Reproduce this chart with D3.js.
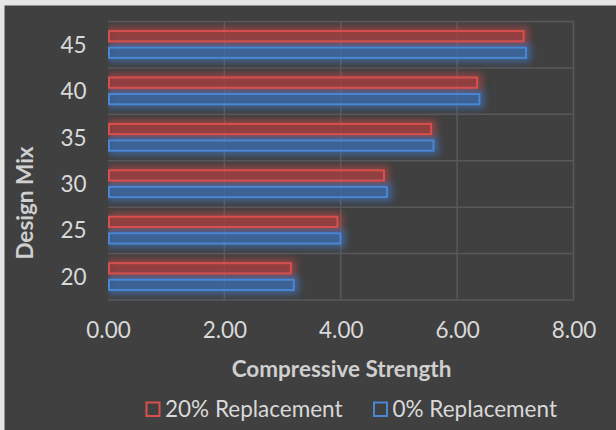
<!DOCTYPE html>
<html>
<head>
<meta charset="utf-8">
<script src="https://cdn.jsdelivr.net/npm/d3@7"></script>
<style>
  html, body { margin: 0; padding: 0; background: #e6e6e6; }
  svg { display: block; }
</style>
</head>
<body>
<svg id="chart" width="616" height="430"></svg>
<script>
const categories = ["20", "25", "30", "35", "40", "45"];
const seriesNames = ["20% Replacement", "0% Replacement"];
const replacement20 = [3.16, 3.96, 4.76, 5.57, 6.36, 7.16];
const replacement0 = [3.21, 4.01, 4.81, 5.61, 6.40, 7.20];
const xTicks = [0, 2, 4, 6, 8];

const seriesValues = [replacement20, replacement0];
const strokeColors = ["#d8504e", "#4a86d2"];
const fillColors = ["rgba(150,55,58,0.45)", "rgba(55,95,150,0.45)"];
const glowColors = ["#c84a48", "#3f7fd0"];

const svg = d3.select("#chart");
const W = 616, H = 430;
const margin = { left: 108, right: 616 - 573.5, top: 21.5, bottom: 430 - 300 };
const plotW = W - margin.left - margin.right;
const plotH = H - margin.top - margin.bottom;

svg.append("rect").attr("x", 4.5).attr("y", 5.5).attr("width", W - 4.5).attr("height", H - 5.5)
  .attr("fill", "#404040");

const defs = svg.append("defs");
const blur = defs.append("filter").attr("id", "glow")
  .attr("x", "-20%").attr("y", "-100%").attr("width", "140%").attr("height", "300%");
blur.append("feGaussianBlur").attr("stdDeviation", 3.5);
defs.append("clipPath").attr("id", "plotclip")
  .append("rect").attr("x", margin.left).attr("y", 0).attr("width", W - margin.left).attr("height", H);

const x = d3.scaleLinear().domain([0, 8]).range([margin.left, margin.left + plotW]);
const y0 = d3.scaleBand().domain(categories.slice().reverse()).range([margin.top, margin.top + plotH]).padding(0);
const y1 = d3.scaleBand().domain(seriesNames)
  .range([y0.bandwidth() * 0.185, y0.bandwidth() * 0.805]).paddingInner(0.26);

const grid = svg.append("g").attr("stroke", "#595959").attr("stroke-width", 1.5);
xTicks.slice(1).forEach(t => {
  grid.append("line").attr("x1", x(t)).attr("x2", x(t))
    .attr("y1", margin.top).attr("y2", margin.top + plotH);
});
const hLines = categories.map(c => y0(c)).concat([margin.top + plotH]);
hLines.forEach(v => {
  grid.append("line").attr("x1", margin.left).attr("x2", margin.left + plotW)
    .attr("y1", v).attr("y2", v);
});

const glowG = svg.append("g").attr("clip-path", "url(#plotclip)");
seriesNames.forEach((s, si) => {
  glowG.append("g").attr("filter", "url(#glow)")
    .selectAll("rect").data(categories).join("rect")
    .attr("x", x(0))
    .attr("y", c => y0(c) + y1(s) - 3)
    .attr("width", (c, i) => x(seriesValues[si][i]) - x(0) + 4)
    .attr("height", y1.bandwidth() + 6)
    .attr("fill", glowColors[si])
    .attr("opacity", 0.6);
});

seriesNames.forEach((s, si) => {
  svg.append("g").selectAll("rect").data(categories).join("rect")
    .attr("x", x(0) + 1)
    .attr("y", c => y0(c) + y1(s) + 1)
    .attr("width", (c, i) => x(seriesValues[si][i]) - x(0) - 2)
    .attr("height", y1.bandwidth() - 2)
    .attr("fill", fillColors[si])
    .attr("stroke", strokeColors[si])
    .attr("stroke-width", 2);
});

const font = "Lato, 'Open Sans', sans-serif";
const fs = "22.5px";

const yAxis = d3.axisLeft(y0).tickSize(0).tickPadding(0);
const yg = svg.append("g").attr("transform", `translate(${86.5},0)`).call(yAxis);
yg.select(".domain").remove();
yg.selectAll("text").attr("fill", "#d9d9d9").style("font-family", font).style("font-size", fs)
  .attr("dy", "0.36em");

const xAxis = d3.axisBottom(x).tickValues(xTicks).tickFormat(d3.format(".2f")).tickSize(0).tickPadding(0);
const xg = svg.append("g").attr("transform", `translate(0,${322})`).call(xAxis);
xg.select(".domain").remove();
xg.selectAll("text").attr("fill", "#d9d9d9").style("font-family", font).style("font-size", fs)
  .attr("dy", "0.71em");

svg.append("text").attr("x", 341.5).attr("y", 377).attr("text-anchor", "middle")
  .attr("fill", "#cfcfcf").style("font-family", font).style("font-size", fs).style("font-weight", "bold")
  .text("Compressive Strength");
svg.append("text").attr("transform", "translate(33,203) rotate(-90)").attr("text-anchor", "middle")
  .attr("fill", "#cfcfcf").style("font-family", font).style("font-size", fs).style("font-weight", "bold")
  .text("Design Mix");

const legendX = [146.5, 374];
const legendTextX = [165, 392.5];
seriesNames.forEach((s, si) => {
  svg.append("rect").attr("x", legendX[si]).attr("y", 402.5).attr("width", 13).attr("height", 13.5)
    .attr("fill", "none").attr("stroke", strokeColors[si]).attr("stroke-width", 2);
  svg.append("text").attr("x", legendTextX[si]).attr("y", 416.5)
    .attr("fill", "#d9d9d9").style("font-family", font).style("font-size", fs)
    .text(s);
});
</script>
</body>
</html>
